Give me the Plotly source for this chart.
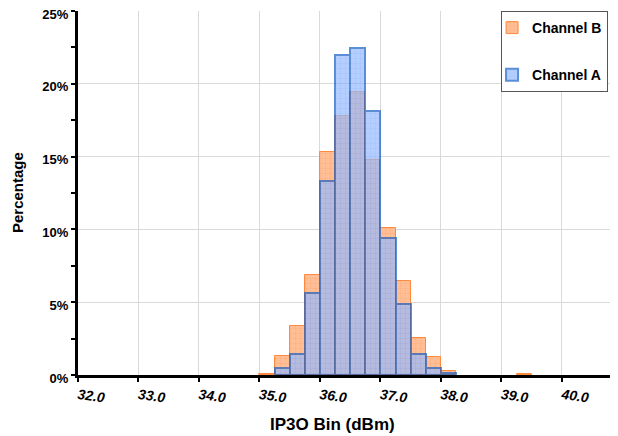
import plotly.graph_objects as go

# bin centres (0.25 dBm wide bins) and percentage per bin
bin_centers = [35.125, 35.375, 35.625, 35.875, 36.125, 36.375, 36.625,
               36.875, 37.125, 37.375, 37.625, 37.875, 38.125, 39.375]
channel_b = [0.10, 1.33, 3.40, 6.85, 15.33, 17.77, 19.43,
             14.76, 10.10, 6.48, 2.53, 1.26, 0.28, 0.05]
channel_a = [None, 0.46, 1.43, 5.63, 13.33, 22.00, 22.46,
             18.16, 9.38, 4.87, 1.47, 0.46, 0.11, None]

x_ticks = [32, 33, 34, 35, 36, 37, 38, 39, 40]
x_ticktext = ["32.0", "33.0", "34.0", "35.0", "36.0", "37.0", "38.0", "39.0", "40.0"]
y_ticks = [0, 5, 10, 15, 20, 25]
y_ticktext = ["0%", "5%", "10%", "15%", "20%", "25%"]

font = "Liberation Sans, Arial, sans-serif"

fig = go.Figure()
fig.add_trace(go.Bar(
    x=bin_centers, y=channel_b, width=0.25, name="Channel B",
    legendgroup="b",
    marker=dict(
        color="#FFBE96",
        line=dict(color="#FF8A3D", width=1),
        pattern=dict(shape="+", fgcolor="#FF9E60", bgcolor="#FFBE96",
                     size=5, solidity=0.2, fillmode="overlay"),
    ),
))
fig.add_trace(go.Bar(
    x=bin_centers, y=channel_a, width=0.25, name="Channel A",
    legendgroup="a",
    opacity=0.7,
    marker=dict(
        color="#95BAFF",
        line=dict(color="#1560C8", width=2),
        pattern=dict(shape="+", fgcolor="#6E9BF5", bgcolor="#95BAFF",
                     size=5, solidity=0.2, fillmode="overlay"),
    ),
))

# the page body adds an 8px offset, so margins are trimmed by 8px
fig.update_layout(
    width=618, height=436,
    barmode="overlay",
    bargap=0,
    plot_bgcolor="white",
    paper_bgcolor="white",
    margin=dict(l=70, r=0, t=3, b=69, autoexpand=False),
    font=dict(family=font, color="black"),
    showlegend=True,
    legend=dict(
        x=0.772, y=1, xanchor="left", yanchor="top",
        bordercolor="#555555", borderwidth=1,
        bgcolor="white",
        font=dict(size=14, family=font, weight="bold"),
        tracegroupgap=26,
        traceorder="grouped",
        itemwidth=30,
        indentation=-10,
    ),
    annotations=[
        dict(text="<b>IP3O Bin (dBm)</b>", x=0.465, y=0, xref="paper", yref="paper",
             yshift=-38, yanchor="top", showarrow=False,
             font=dict(size=17, family=font)),
        dict(text="<b>Percentage</b>", x=0, y=0.5, xref="paper", yref="paper",
             xshift=-61, xanchor="center", textangle=-90, showarrow=False,
             font=dict(size=15, family=font)),
    ],
)

fig.update_xaxes(
    range=[32, 41.06],
    tickvals=x_ticks, ticktext=x_ticktext,
    tickangle=8,
    tickfont=dict(size=14, family=font, weight="bold", style="italic"),
    showline=True, linecolor="black", linewidth=3,
    ticks="outside", ticklen=4, tickwidth=2, tickcolor="black",
    showgrid=True, gridcolor="#D9D9D9", gridwidth=1,
    zeroline=False, automargin=False,
)
fig.update_yaxes(
    range=[0, 25],
    tickvals=y_ticks, ticktext=y_ticktext,
    tickfont=dict(size=13, family=font, weight="bold"),
    ticklabeloverflow="allow",
    ticklabelshift=3,
    showline=True, linecolor="black", linewidth=3,
    ticks="outside", ticklen=4, tickwidth=2, tickcolor="black",
    minor=dict(dtick=2.5, tick0=0, ticks="outside", ticklen=4, tickwidth=2, tickcolor="black"),
    showgrid=True, gridcolor="#D9D9D9", gridwidth=1,
    zeroline=False, automargin=False,
)

fig.write_html("out.html")
